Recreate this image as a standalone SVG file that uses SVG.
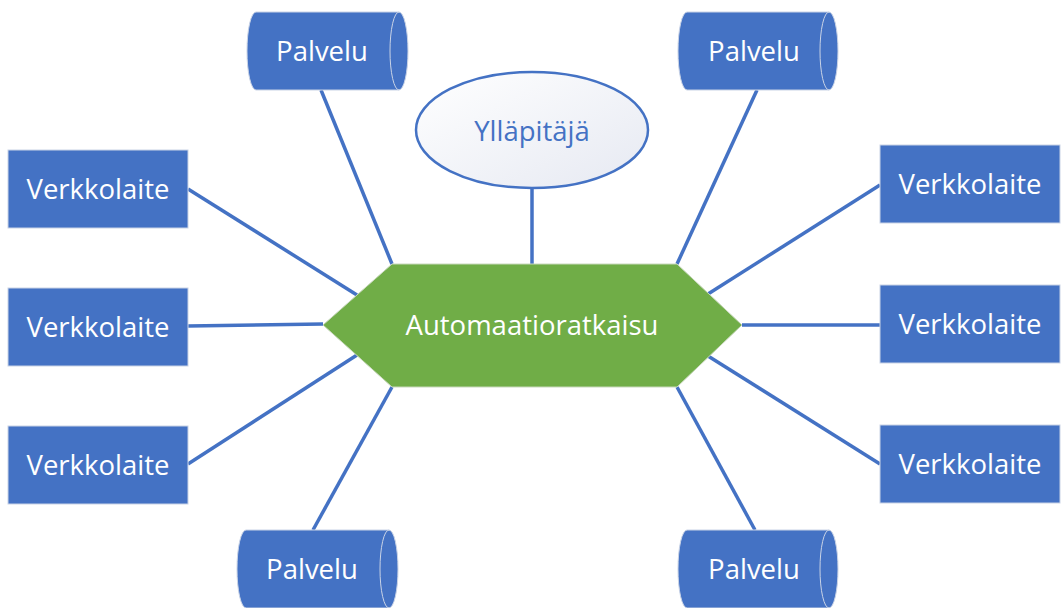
<svg xmlns="http://www.w3.org/2000/svg" width="1061" height="608" viewBox="0 0 1061 608">
<defs>
<linearGradient id="eg" x1="0" y1="0" x2="1" y2="1">
<stop offset="0" stop-color="#ffffff"/>
<stop offset="1" stop-color="#e6e9f2"/>
</linearGradient>
</defs>
<style>
.box{fill:#4472C4;stroke:#c9d3e6;stroke-width:1}
.cyl{fill:#4472C4;stroke:#c9d3e6;stroke-width:1}
.inner{fill:none;stroke:#c9d3e6;stroke-width:1}
.t{font-family:"Open Sans","Noto Sans",sans-serif;font-size:27.5px;fill:#ffffff;text-anchor:middle;dominant-baseline:central}
.c{stroke:#4472C4;stroke-width:3.5;fill:none}
</style>
<rect width="1061" height="608" fill="#ffffff"/>
<g id="connectors">
<line class="c" x1="532" y1="188" x2="532" y2="264"/>
<line class="c" x1="321" y1="90" x2="392" y2="264"/>
<line class="c" x1="757" y1="90" x2="677" y2="264"/>
<line class="c" x1="188" y1="189" x2="357" y2="295"/>
<line class="c" x1="188" y1="326" x2="323" y2="324"/>
<line class="c" x1="188" y1="464" x2="357" y2="355"/>
<line class="c" x1="313" y1="530" x2="392" y2="387"/>
<line class="c" x1="755" y1="530" x2="677" y2="387"/>
<line class="c" x1="880" y1="185" x2="708" y2="294"/>
<line class="c" x1="880" y1="325" x2="742" y2="325"/>
<line class="c" x1="880" y1="464" x2="708" y2="356"/>
</g>
<g id="hub">
<polygon points="323,325 392,264 677,264 742,325 677,387 392,387" fill="#70AD47" stroke="#c8d8bc" stroke-width="1"/>
<text class="t" x="532" y="324" font-size="30.5">Automaatioratkaisu</text>
</g>
<g id="yllapitaja">
<ellipse cx="532" cy="130" rx="116" ry="58" fill="url(#eg)" stroke="#4472C4" stroke-width="2.5"/>
<text class="t" x="532" y="130" font-size="28" style="fill:#4472C4">Ylläpitäjä</text>
</g>
<g id="palvelu1">
<path class="cyl" d="M256,12 L399,12 A9,39 0 0 1 399,90 L256,90 A9,39 0 0 1 256,12 Z"/>
<path class="inner" d="M399,12 A9,39 0 0 0 399,90"/>
<text class="t" x="322" y="50">Palvelu</text>
</g>
<g id="palvelu2">
<path class="cyl" d="M687,12 L829,12 A9,39 0 0 1 829,90 L687,90 A9,39 0 0 1 687,12 Z"/>
<path class="inner" d="M829,12 A9,39 0 0 0 829,90"/>
<text class="t" x="754" y="50">Palvelu</text>
</g>
<g id="palvelu3">
<path class="cyl" d="M246,530 L389,530 A9,39 0 0 1 389,608 L246,608 A9,39 0 0 1 246,530 Z"/>
<path class="inner" d="M389,530 A9,39 0 0 0 389,608"/>
<text class="t" x="312" y="568">Palvelu</text>
</g>
<g id="palvelu4">
<path class="cyl" d="M687,530 L829,530 A9,39 0 0 1 829,608 L687,608 A9,39 0 0 1 687,530 Z"/>
<path class="inner" d="M829,530 A9,39 0 0 0 829,608"/>
<text class="t" x="754" y="568">Palvelu</text>
</g>
<g id="verkko1"><rect class="box" x="8" y="150" width="180" height="78"/><text class="t" x="98" y="188">Verkkolaite</text></g>
<g id="verkko2"><rect class="box" x="8" y="288" width="180" height="78"/><text class="t" x="98" y="326">Verkkolaite</text></g>
<g id="verkko3"><rect class="box" x="8" y="426" width="180" height="78"/><text class="t" x="98" y="464">Verkkolaite</text></g>
<g id="verkko4"><rect class="box" x="880" y="145" width="180" height="78"/><text class="t" x="970" y="183">Verkkolaite</text></g>
<g id="verkko5"><rect class="box" x="880" y="285" width="180" height="78"/><text class="t" x="970" y="323">Verkkolaite</text></g>
<g id="verkko6"><rect class="box" x="880" y="425" width="180" height="78"/><text class="t" x="970" y="463">Verkkolaite</text></g>
</svg>
